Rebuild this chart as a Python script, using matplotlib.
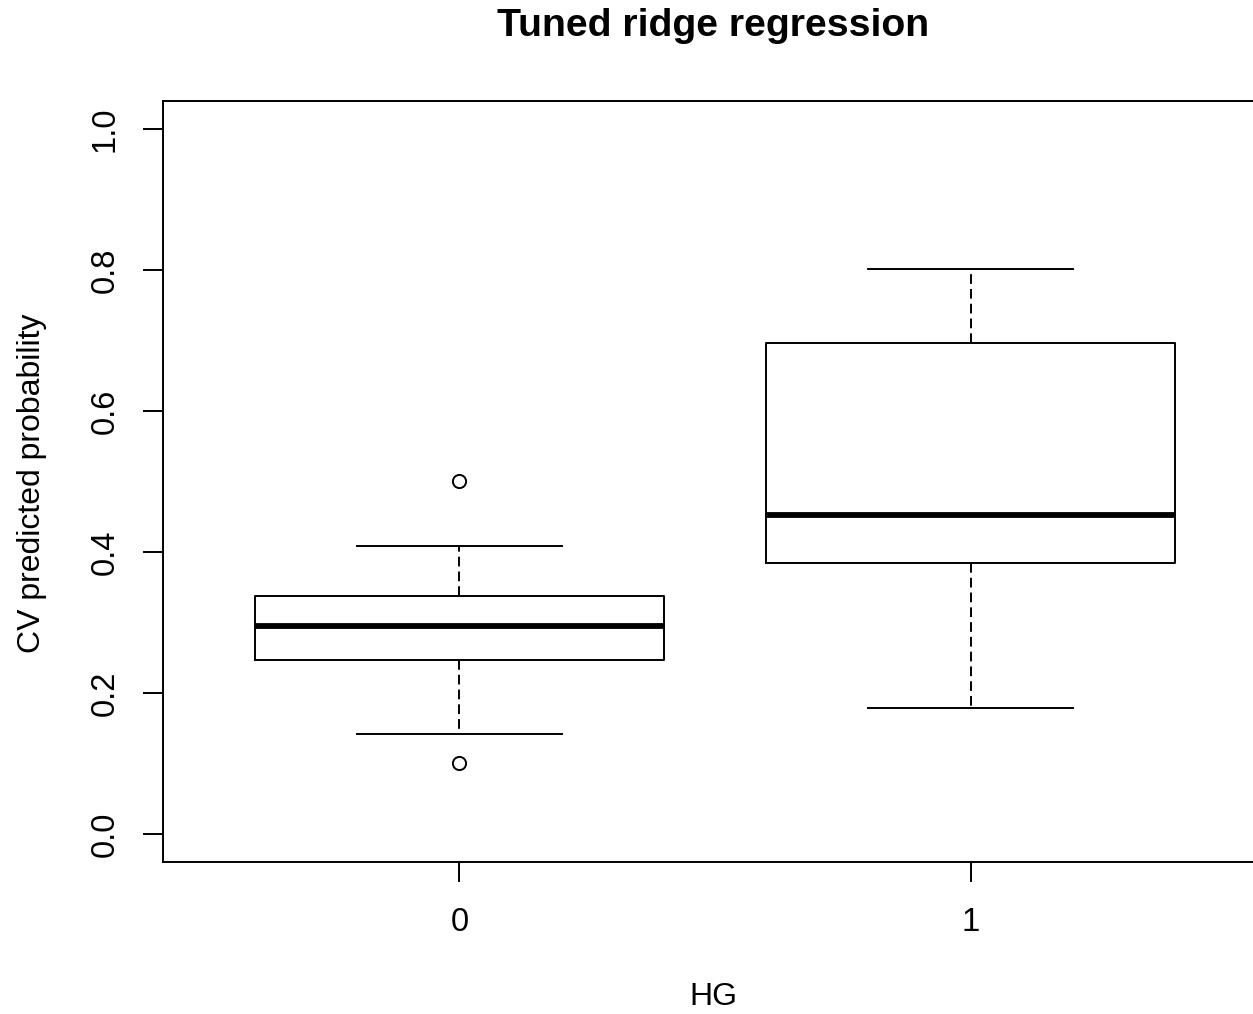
import matplotlib
matplotlib.use("Agg")
import matplotlib.pyplot as plt

plt.rcParams["font.family"] = ["Liberation Sans", "DejaVu Sans"]

# boxplot summary
groups = ["0", "1"]
whislo = [0.141, 0.179]
q1 = [0.246, 0.384]
med = [0.295, 0.452]
q3 = [0.338, 0.696]
whishi = [0.408, 0.801]
fliers = [[0.501, 0.101], []]
yticks = [0.0, 0.2, 0.4, 0.6, 0.8, 1.0]

stats = []
for i in range(len(groups)):
    stats.append(dict(label=groups[i], whislo=whislo[i], q1=q1[i], med=med[i],
                      q3=q3[i], whishi=whishi[i], fliers=fliers[i]))

W, H = 1253, 1014
fig = plt.figure(figsize=(W / 100, H / 100), dpi=100)
ax = fig.add_axes([163 / W, (H - 862) / H, (1267 - 163) / W, (862 - 101) / H])

lw = 1.4
ax.bxp(stats, positions=[1, 2], widths=0.8, showfliers=True,
       boxprops=dict(color="black", linewidth=lw),
       medianprops=dict(color="black", linewidth=4.2, solid_capstyle="butt"),
       whiskerprops=dict(color="black", linewidth=lw, linestyle=(0, (5, 2.6))),
       capprops=dict(color="black", linewidth=lw),
       capwidths=0.4,
       flierprops=dict(marker="o", markerfacecolor="none", markeredgecolor="black",
                       markersize=9.5, markeredgewidth=lw))

ax.set_xlim(0.42, 2.58)
ax.set_ylim(-0.04, 1.04)
ax.set_xticks([1, 2])
ax.set_xticklabels(groups)
ax.set_yticks(yticks)
ax.set_yticklabels(["%.1f" % v for v in yticks], rotation=90, va="center")

for s in ax.spines.values():
    s.set_linewidth(lw)
ax.tick_params(axis="both", length=14.4, width=lw, labelsize=23.5,
               colors="black")
ax.tick_params(axis="x", pad=18)
ax.tick_params(axis="y", pad=16)

fig.text(713 / W, 1 - 26 / H, "Tuned ridge regression", fontsize=28.3,
         fontweight="bold", ha="center", va="center")
fig.text(713 / W, 1 - 997 / H, "HG", fontsize=23, ha="center", va="center")
fig.text(32 / W, 1 - 483 / H, "CV predicted probability", fontsize=23,
         rotation=90, ha="center", va="center")

fig.savefig("out.png", dpi=100)
